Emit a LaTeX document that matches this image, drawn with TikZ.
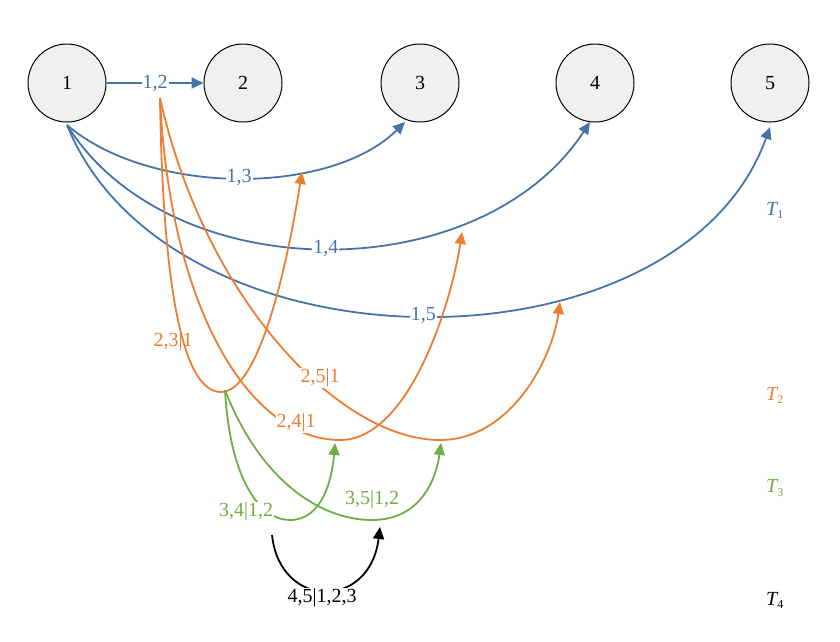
\documentclass[tikz,border=0pt]{standalone}
\usepackage{fontspec}
\setmainfont{Liberation Serif}
\usetikzlibrary{arrows.meta}
\definecolor{cb}{RGB}{70,115,170}
\definecolor{co}{RGB}{237,125,49}
\definecolor{cg}{RGB}{112,173,71}
\begin{document}
\begin{tikzpicture}[x=1pt,y=-1pt,
  vx/.style={circle,draw=black,line width=1pt,fill=gray!12,minimum size=78pt,inner sep=0pt,font=\fontsize{20}{20}\selectfont},
  ed/.style={line width=1.8pt,-{Triangle[length=12pt,width=11pt]}},
  lb/.style={fill=white,inner sep=1pt,font=\fontsize{20}{20}\selectfont},
  tl/.style={font=\fontsize{20}{20}\selectfont\itshape}]
\useasboundingbox (0,0) rectangle (840,641);
\node[vx] (n1) at (67,83) {1};
\node[vx] (n2) at (243,83) {2};
\node[vx] (n3) at (420,83) {3};
\node[vx] (n4) at (595,83) {4};
\node[vx] (n5) at (770,83) {5};
\coordinate (s1) at (67,125);
\coordinate (s2) at (160,98);
\coordinate (s3) at (225,390);
\coordinate (a13) at (405,122);
\coordinate (a14) at (590,122);
\coordinate (a15) at (770,127);
\coordinate (b3) at (302,172);
\coordinate (b4) at (462,232);
\coordinate (b5) at (560,302);
\coordinate (g4) at (335,443);
\coordinate (g5) at (441,443);
\coordinate (k0) at (272,535);
\coordinate (k1) at (380,527);
% blue
\draw[ed,cb] (n1) -- node[lb,text=cb]{1,2} (n2);
\draw[ed,cb] (s1) .. controls (150,196) and (330,196) .. node[lb,text=cb]{1,3} (a13);
\draw[ed,cb] (s1) .. controls (170,290) and (480,290) .. node[lb,text=cb]{1,4} (a14);
\draw[ed,cb] (s1) .. controls (170,379) and (680,379) .. node[lb,text=cb]{1,5} (a15);
% orange
\draw[ed,co] (s2) .. controls (163,300) and (185,392) .. (221,392) .. controls (260,392) and (288,260) .. (b3);
\draw[ed,co] (s2) .. controls (170,310) and (250,440) .. (340,440) .. controls (410,440) and (452,300) .. (b4);
\draw[ed,co] (s2) .. controls (205,300) and (340,440) .. (440,440) .. controls (510,440) and (552,360) .. (b5);
\node[lb,text=co,fill=none] (l23) at (173,342) {2,3|1};
\node[lb,text=co] (l25) at (320,378) {2,5|1};
\node[lb,text=co] (l24) at (296,423) {2,4|1};
% green
\draw[ed,cg] (s3) .. controls (230,480) and (260,520) .. (290,520) .. controls (322,520) and (332,480) .. (g4);
\draw[ed,cg] (s3) .. controls (260,480) and (320,520) .. (372,520) .. controls (420,520) and (436,480) .. (g5);
\node[lb,text=cg] (l34) at (246,512) {3,4|1,2};
\node[lb,text=cg] (l35) at (372,500) {3,5|1,2};
% black
\draw[ed,black] (k0) .. controls (280,610) and (370,610) .. (k1);
\node[lb] (l45) at (322,598) {4,5|1,2,3};
% tree labels
\node[tl,text=cb] (t1) at (775,210) {T\textsubscript{\upshape\fontsize{12}{12}\selectfont 1}};
\node[tl,text=co] (t2) at (775,395) {T\textsubscript{\upshape\fontsize{12}{12}\selectfont 2}};
\node[tl,text=cg] (t3) at (775,488) {T\textsubscript{\upshape\fontsize{12}{12}\selectfont 3}};
\node[tl,text=black] (t4) at (775,600) {T\textsubscript{\upshape\fontsize{12}{12}\selectfont 4}};
\end{tikzpicture}
\end{document}
